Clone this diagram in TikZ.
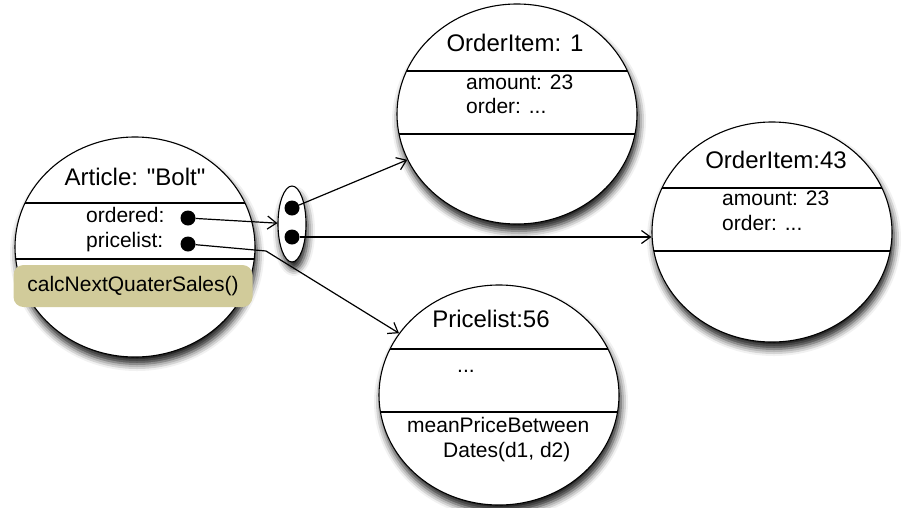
\documentclass[tikz,border=0pt]{standalone}
\usepackage{fontspec}
\setmainfont{Liberation Sans}[Ligatures=TeXOff]
\usetikzlibrary{shapes.geometric,arrows.meta,shadows.blur}
\definecolor{bandcol}{RGB}{209,203,154}
\definecolor{titleblue}{RGB}{52,62,140}
\tikzset{
  shadowed/.style={blur shadow={shadow xshift=2pt,shadow yshift=-7pt,shadow blur radius=7pt,shadow opacity=90}},
  objcircle/.style 2 args={ellipse, draw, line width=1.1pt, fill=white,
    minimum width=240pt, minimum height=220pt, inner sep=0pt, shadowed,
    path picture={
      \draw[line width=1.3pt] ([yshift=-#1pt]path picture bounding box.north west) -- ([yshift=-#1pt]path picture bounding box.north east);
      \draw[line width=1.3pt] ([yshift=-#2pt]path picture bounding box.north west) -- ([yshift=-#2pt]path picture bounding box.north east);
    }},
  ttl/.style={anchor=base, inner sep=0pt, font=\fontsize{24}{28}\selectfont},
  attr/.style={anchor=base west, inner sep=0pt, font=\fontsize{21}{25}\selectfont},
  dot/.style={circle, fill=black, minimum size=15pt, inner sep=0pt},
  arr/.style={line width=1.2pt, -{Straight Barb[length=9pt,width=13pt,line width=1.2pt]}},
}
\begin{document}
\begin{tikzpicture}[x=1pt,y=-1pt]
\useasboundingbox (0,0) rectangle (903,507);
\clip (0,0) rectangle (903,507);

% cropped slide title
\node[anchor=south west, inner sep=0pt, text=titleblue, font=\fontsize{127}{127}\selectfont\bfseries] (title) at (-141,-29) {Fields};

% objects
\node[objcircle={66}{122}] (art) at (135,247) {};
\node[objcircle={67}{130}] (oi1) at (517,114) {};
\node[objcircle={66}{129}] (oi43) at (772,232) {};
\node[objcircle={64}{127}] (pl) at (499,395) {};

% Article
\node[ttl] (artT) at (135,185) {Article: "Bolt"};
\node[attr] (artA1) at (86,222) {ordered:};
\node[attr] (artA2) at (86,247) {pricelist:};
\node[rounded corners=10pt, fill=bandcol, minimum width=239pt, minimum height=42pt, inner sep=0pt,
      font=\fontsize{21}{25}\selectfont] (band) at (133,286) {calcNextQuaterSales()};
\node[dot] (od) at (188,218) {};
\node[dot] (pd) at (188,244) {};

% OrderItem: 1
\node[ttl] (oi1T) at (515,51) {OrderItem: 1};
\node[attr] (oi1A1) at (466,89) {amount: 23};
\node[attr] (oi1A2) at (466,113) {order: ...};

% OrderItem:43
\node[ttl] (oi43T) at (776,168) {OrderItem:43};
\node[attr] (oi43A1) at (722,205) {amount: 23};
\node[attr] (oi43A2) at (722,230) {order: ...};

% Pricelist:56
\node[ttl] (plT) at (491,327) {Pricelist:56};
\node[attr] (plA1) at (457,372) {...};
\node[attr] (plM1) at (407,432) {meanPriceBetween};
\node[attr] (plM2) at (443,457) {Dates(d1, d2)};

% multiplicity container
\node[ellipse, draw, line width=1.1pt, fill=white, minimum width=28pt, minimum height=76pt, inner sep=0pt, shadowed] (mult) at (292,224) {};
\node[dot] (m1) at (292,208) {};
\node[dot] (m2) at (292,237) {};

% connectors
\draw[arr] (od) -- (mult);
\draw[arr] (m1) -- (oi1);
\draw[arr] (m2) -- (oi43.west |- m2);
\coordinate (bend) at (266,251);
\draw[arr] (pd) -- (bend) -- (pl);
\end{tikzpicture}
\end{document}
